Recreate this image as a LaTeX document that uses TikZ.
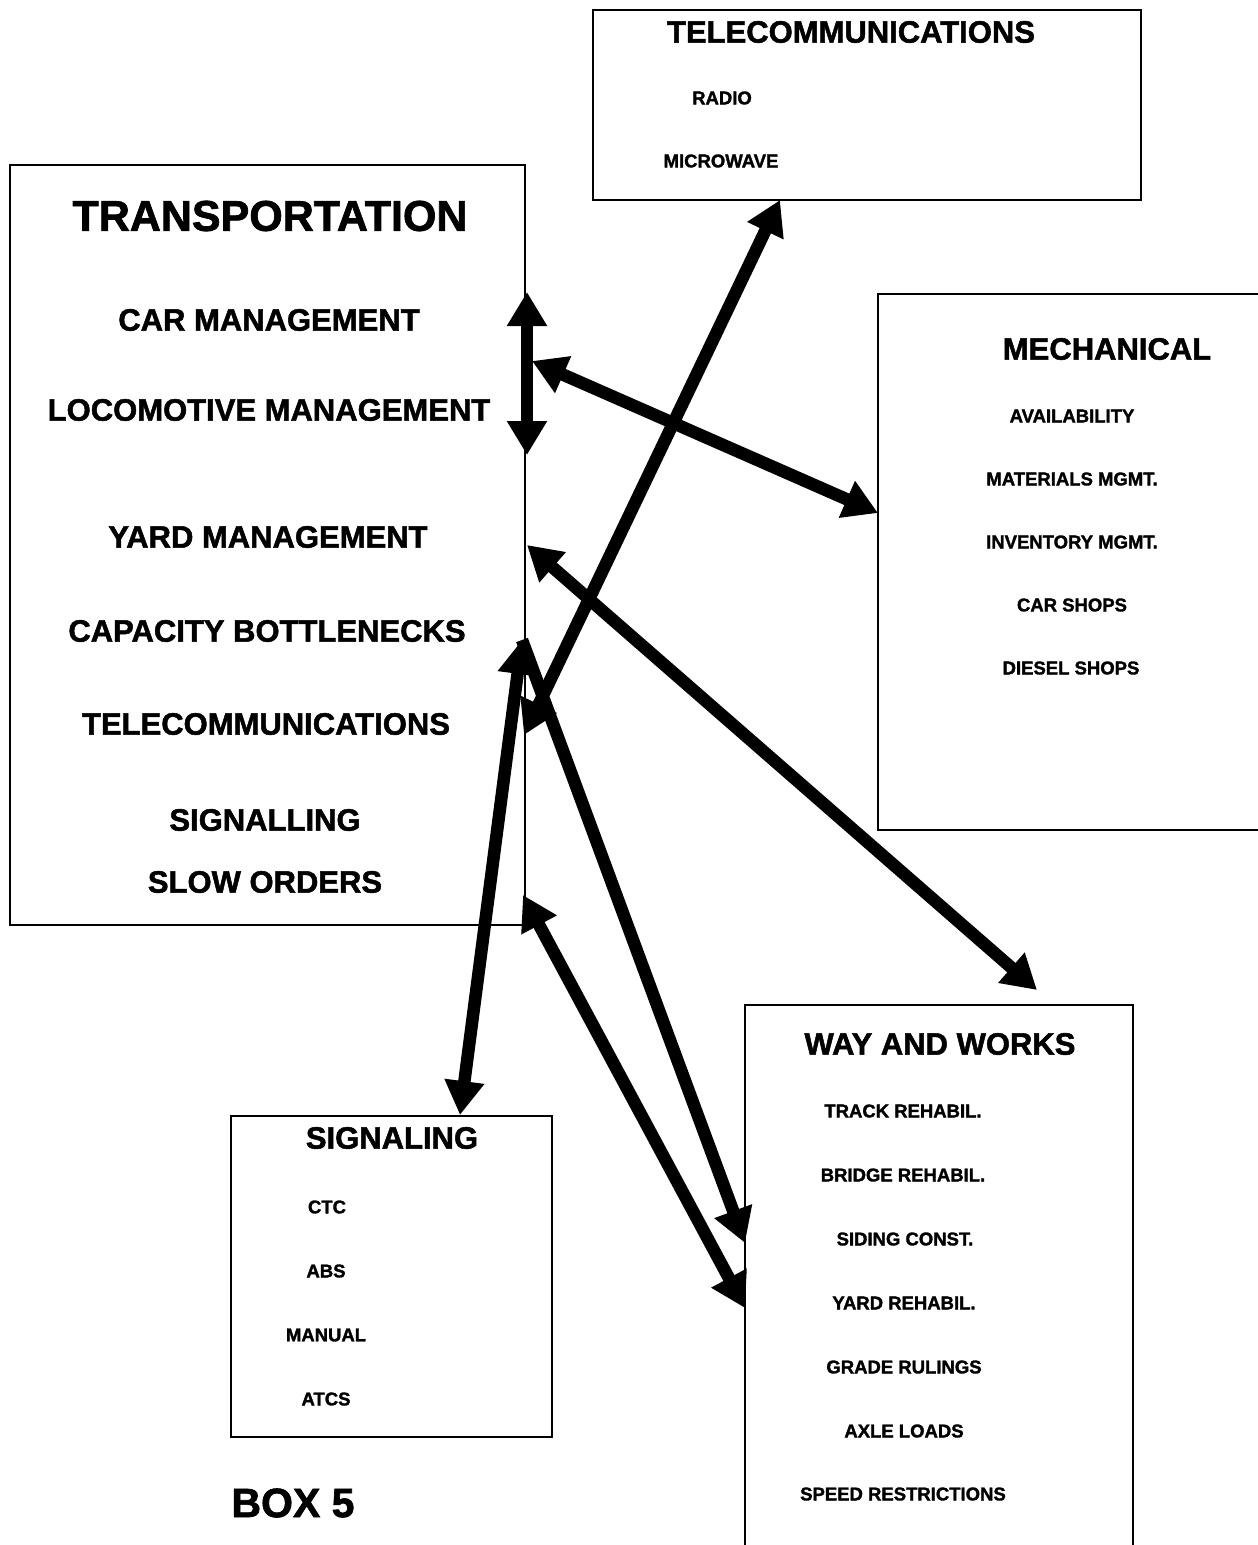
\documentclass[tikz,border=0pt]{standalone}
\usepackage{fontspec}
\setmainfont{Liberation Sans}[BoldFeatures={FakeBold=1.6}]
\usetikzlibrary{arrows.meta}

\tikzset{
  box/.style={line width=2.2pt},
  link/.style={line width=12.5pt,{Triangle[length=34pt,width=38pt]}-{Triangle[length=34pt,width=38pt]}},
  oneway/.style={line width=12.5pt,-{Triangle[length=34pt,width=38pt]}},
  bigtitle/.style={inner sep=0pt,font=\bfseries\fontsize{43}{50}\selectfont},
  title/.style={inner sep=0pt,font=\bfseries\fontsize{31}{36}\selectfont},
  item/.style={inner sep=0pt,font=\bfseries\fontsize{18.5}{22}\selectfont},
}

\begin{document}
\begin{tikzpicture}[x=1pt,y=-1pt]
 \useasboundingbox (0,0) rectangle (1258,1545);
 % boxes
 \draw[box] (593,10) rectangle (1141,200);
 \draw[box] (10,165) rectangle (525,925);
 \draw[box] (1265,294) -- (878,294) -- (878,830) -- (1265,830);
 \draw[box] (745,1550) -- (745,1005) -- (1133,1005) -- (1133,1550);
 \draw[box] (231,1116) rectangle (552,1437);

 % transportation
 \node[bigtitle] (trans) at (270,216) {TRANSPORTATION};
 \node[title] (carm) at (269,320) {CAR MANAGEMENT};
 \node[title] (locom) at (269,410) {LOCOMOTIVE MANAGEMENT};
 \node[title] (yardm) at (268,537) {YARD MANAGEMENT};
 \node[title] (capb) at (267,631) {CAPACITY BOTTLENECKS};
 \node[title] (tcom) at (266,724) {TELECOMMUNICATIONS};
 \node[title] (sigl) at (265,820) {SIGNALLING};
 \node[title] (slow) at (265,882) {SLOW ORDERS};

 % telecommunications
 \node[title] (tele) at (851,32) {TELECOMMUNICATIONS};
 \node[item] (radio) at (722,98) {RADIO};
 \node[item] (micro) at (721,161) {MICROWAVE};

 % mechanical
 \node[title] (mech) at (1107,349) {MECHANICAL};
 \node[item] (avail) at (1072,416) {AVAILABILITY};
 \node[item] (matm) at (1072,479) {MATERIALS MGMT.};
 \node[item] (invm) at (1072,542) {INVENTORY MGMT.};
 \node[item] (cars) at (1072,605) {CAR SHOPS};
 \node[item] (diesel) at (1071,668) {DIESEL SHOPS};

 % way and works
 \node[title] (way) at (940,1044) {WAY AND WORKS};
 \node[item] (track) at (903,1111) {TRACK REHABIL.};
 \node[item] (bridge) at (903,1175) {BRIDGE REHABIL.};
 \node[item] (siding) at (905,1239) {SIDING CONST.};
 \node[item] (yardr) at (904,1303) {YARD REHABIL.};
 \node[item] (grade) at (904,1367) {GRADE RULINGS};
 \node[item] (axle) at (904,1431) {AXLE LOADS};
 \node[item] (speed) at (903,1494) {SPEED RESTRICTIONS};

 % signaling
 \node[title] (sign) at (392,1138) {SIGNALING};
 \node[item] (ctc) at (327,1207) {CTC};
 \node[item] (abs) at (326,1271) {ABS};
 \node[item] (manual) at (326,1335) {MANUAL};
 \node[item] (atcs) at (326,1399) {ATCS};

 \node[bigtitle,font=\bfseries\fontsize{41}{48}\selectfont] (box5) at (293,1503) {BOX 5};

 % arrow ends
 \coordinate (tA) at (527,292);
 \coordinate (tB) at (527,455);
 \coordinate (tM) at (532,361);
 \coordinate (mL) at (878,513);
 \coordinate (tT) at (524,735);
 \coordinate (teB) at (780,200);
 \coordinate (tY) at (527,545);
 \coordinate (wT) at (1037,990);
 \coordinate (tC) at (522,640);
 \coordinate (sT) at (460,1115);
 \coordinate (wS) at (745,1243);
 \coordinate (tS) at (523,895);
 \coordinate (wY) at (745,1308);

 % connectors
 \draw[link] (tA) -- (tB);
 \draw[link] (tM) -- (mL);
 \draw[link] (tT) -- (teB);
 \draw[link] (tY) -- (wT);
 \draw[link] (tC) -- (sT);
 \draw[oneway] (tC) -- (wS);
 \draw[link] (tS) -- (wY);
\end{tikzpicture}
\end{document}
